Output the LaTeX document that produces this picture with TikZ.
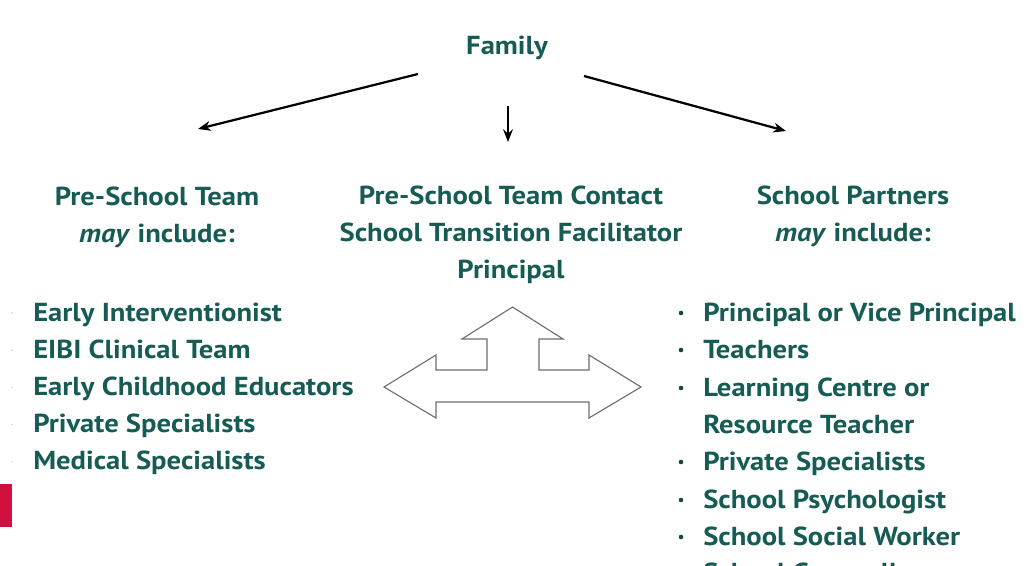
\documentclass[tikz,border=0pt]{standalone}
\usepackage{fontspec}
\setmainfont[FakeStretch=1.1]{PT Sans}
\usetikzlibrary{arrows.meta}
\definecolor{famgreen}{RGB}{22,92,84}
\definecolor{framegray}{RGB}{110,110,110}
\definecolor{tabred}{RGB}{210,16,64}
\tikzset{
  labeltext/.style={text=famgreen,font=\fontsize{18.5}{26.2}\selectfont\bfseries,inner sep=0pt},
  heading/.style={labeltext,align=center,anchor=base},
  listitem/.style={labeltext,anchor=base west},
  flow/.style={draw=black,line width=1.6pt,-{Stealth[length=9pt,width=7pt]}},
}
\begin{document}
\begin{tikzpicture}[x=0.025cm,y=-0.025cm]
  \useasboundingbox (0,0) rectangle (1024,565);

  \node[heading] (family) at (507,55) {Family};
  \node[heading] (preteam) at (157,242) {Pre-School Team\\\textit{may} include:};
  \node[heading] (contact) at (511,278) {Pre-School Team Contact\\School Transition Facilitator\\Principal};
  \node[heading] (partners) at (853,241) {School Partners\\\textit{may} include:};

  % arrows from the family
  \coordinate (fam-l) at (418,74);
  \coordinate (fam-m) at (508,106);
  \coordinate (fam-r) at (584,76);
  \coordinate (to-pre) at (198,129);
  \coordinate (to-contact) at (508,142);
  \coordinate (to-partners) at (786,131);
  \draw[flow] (fam-l) -- (to-pre);
  \draw[flow] (fam-m) -- (to-contact);
  \draw[flow] (fam-r) -- (to-partners);

  % pre-school team list
  \foreach \txt [count=\i] in {Early Interventionist,EIBI Clinical Team,Early Childhood Educators,Private Specialists,Medical Specialists}{
    \node[listitem] (pre\i) at (33,{321+37.2*(\i-1)}) {\txt};
    \fill[gray!40] (12,{313+37.2*(\i-1)}) circle (0.8);
  }

  % school partners list
  \foreach \txt/\yy [count=\i] in {Principal or Vice Principal/321,Teachers/358,Learning Centre or/396,Private Specialists/470,School Psychologist/508,School Social Worker/545,School Counsellor/581}{
    \node[listitem] (part\i) at (703,\yy) {\txt};
    \fill[famgreen!80!black] (681,\yy-8) circle (2.3);
  }
  \node[listitem] (part3b) at (703,433) {Resource Teacher};

  % three-way arrow
  \draw[framegray,line width=0.8pt,fill=white,line join=miter]
    (384,387) -- (436,355) -- (436,370) -- (487,370) -- (487,339) -- (462,339)
    -- (512.5,307) -- (563,339) -- (539,339) -- (539,370) -- (589,370)
    -- (589,355) -- (641,387) -- (589,418) -- (589,402) -- (436,402)
    -- (436,418) -- cycle;

  % page tab
  \fill[tabred] (0,484) rectangle (12,527);
\end{tikzpicture}
\end{document}
